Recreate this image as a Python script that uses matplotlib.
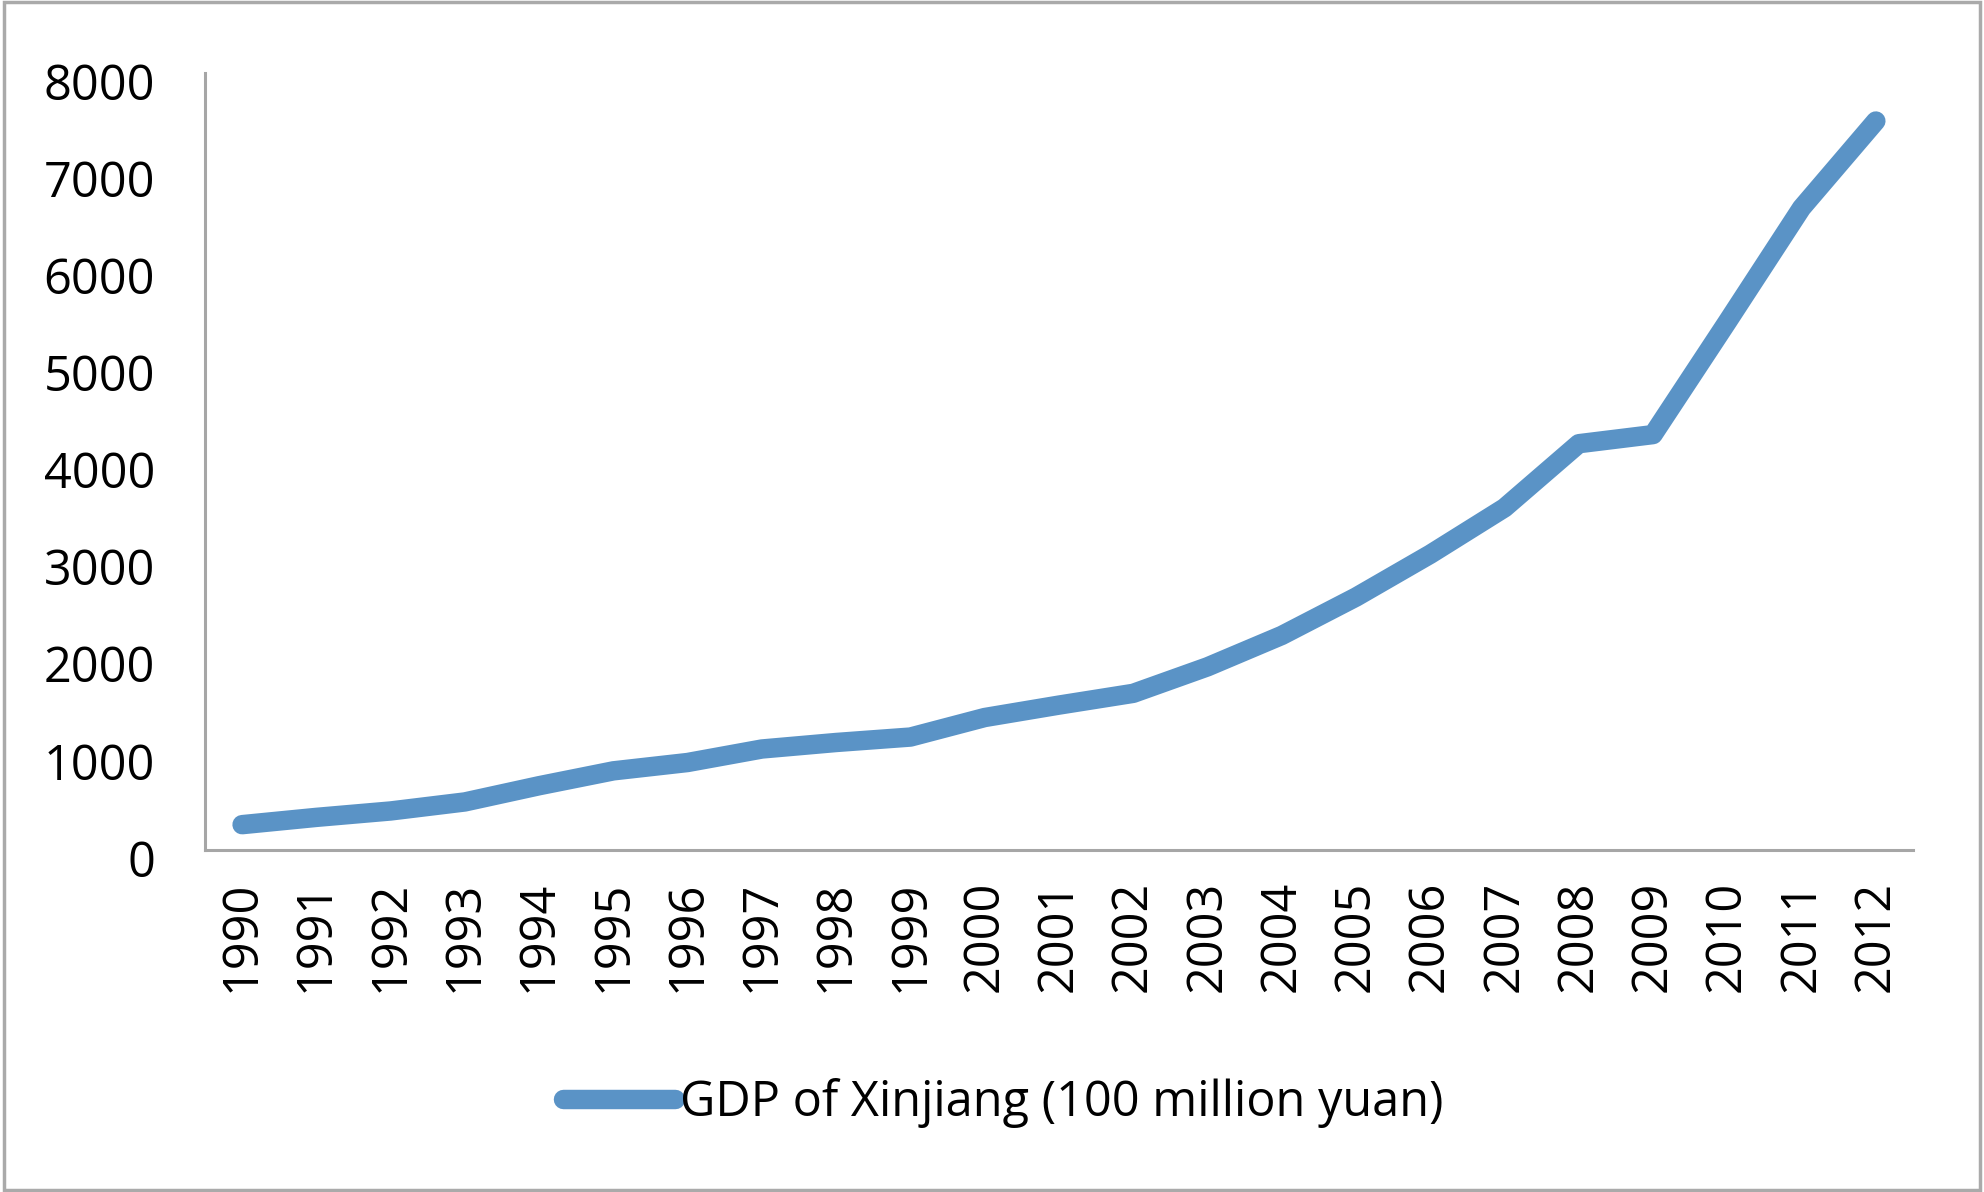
import numpy as np
import matplotlib
matplotlib.use("Agg")
import matplotlib.pyplot as plt
import matplotlib.transforms as mtransforms
from matplotlib.patches import Rectangle

plt.rcParams['font.family'] = ['Open Sans', 'DejaVu Sans']

# GDP of Xinjiang
years = [str(y) for y in range(1990, 2013)]
gdp = [261, 336, 402, 495, 662, 815, 901, 1040, 1107, 1163, 1364, 1492,
       1613, 1886, 2209, 2604, 3045, 3523, 4183, 4277, 5437, 6610, 7505]
series_name = 'GDP of Xinjiang (100 million yuan)'
yticks = [0, 1000, 2000, 3000, 4000, 5000, 6000, 7000, 8000]

blue = '#5A93C6'
axis_grey = '#A6A6A6'

fig = plt.figure(figsize=(19.84, 11.92), dpi=100)
ax = fig.add_axes([0.1033, 0.2869, 0.8609, 0.6519])

x = np.arange(len(years))
line, = ax.plot(x, gdp, color=blue, lw=14, solid_capstyle='round',
                solid_joinstyle='round', label=series_name)

ax.set_xlim(-0.5, len(years) - 0.5)
ax.set_ylim(0, 8000)
ax.set_xticks(x)
ax.set_xticklabels(years, rotation=90, fontsize=35)
ax.set_yticks(yticks)
ax.set_yticklabels([str(v) for v in yticks], fontsize=35)
ax.tick_params(axis='x', length=0, pad=22)
ax.tick_params(axis='y', length=0, pad=36)

# y labels sit a little below their value in the original
shift = mtransforms.ScaledTranslation(0, -8 / 100, fig.dpi_scale_trans)
for lab in ax.get_yticklabels():
    lab.set_transform(lab.get_transform() + shift)

for side in ['top', 'right']:
    ax.spines[side].set_visible(False)
for side in ['left', 'bottom']:
    ax.spines[side].set_color(axis_grey)
    ax.spines[side].set_linewidth(2.2)

leg = fig.legend(handles=[line], loc='center', bbox_to_anchor=(0.5056, 0.075),
                 frameon=False, fontsize=35, handlelength=2.3,
                 handletextpad=0.1)

# outer frame
fig.patches.append(Rectangle((0.002, 0.002), 0.996, 0.996, transform=fig.transFigure,
                             fill=False, edgecolor='#AAAAAA', lw=2.5))

fig.savefig('out.png', dpi=100)
